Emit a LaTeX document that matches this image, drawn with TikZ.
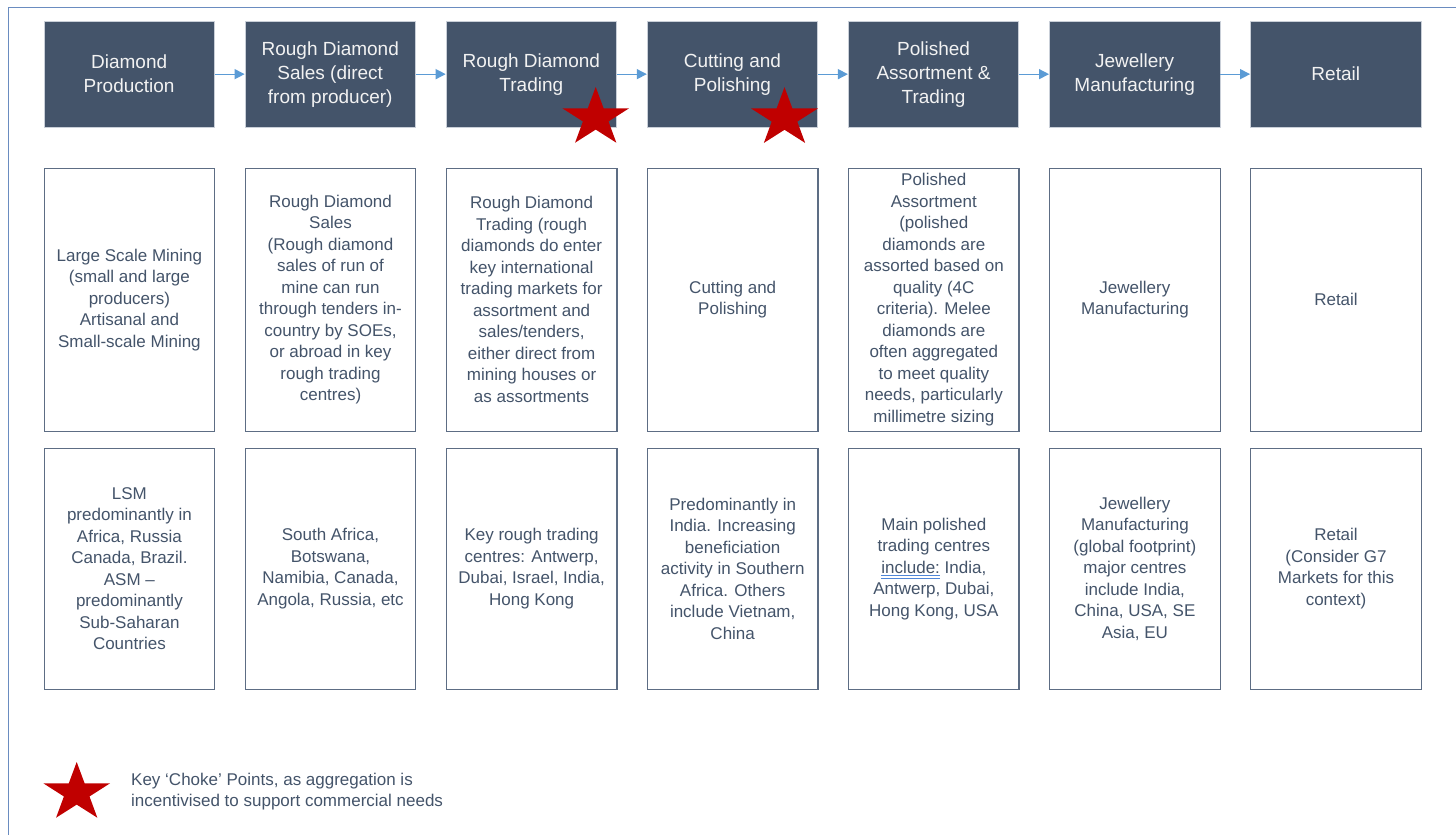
\documentclass[tikz,border=0pt]{standalone}
\usepackage{fontspec}
\setmainfont{Liberation Sans}
\usetikzlibrary{arrows.meta}
\definecolor{hdrfill}{HTML}{44546A}
\definecolor{hdrborder}{HTML}{C9CFD8}
\definecolor{hdrtext}{HTML}{F2F2F2}
\definecolor{bodytxt}{HTML}{44546A}
\definecolor{boxline}{HTML}{5D6D84}
\definecolor{arrowblue}{HTML}{5B9BD5}
\definecolor{starred}{HTML}{C00000}
\definecolor{framecol}{HTML}{6A8CC0}
\definecolor{ulblue}{HTML}{4F86D8}
\newsavebox{\ulwordbox}
\newcommand{\dblunder}[1]{%
  \sbox{\ulwordbox}{#1}%
  \rlap{\usebox{\ulwordbox}}%
  \rlap{\textcolor{ulblue}{\rule[-3.2pt]{\wd\ulwordbox}{0.8pt}}}%
  \rlap{\textcolor{ulblue}{\rule[-5.6pt]{\wd\ulwordbox}{0.8pt}}}%
  \hspace*{\wd\ulwordbox}}
\newcommand{\chokestar}[1]{%
  \fill[starred, shift={#1}, xscale=1.14]
    (90:30.8pt) -- (126:11.8pt) -- (162:30.8pt) -- (198:11.8pt) --
    (234:30.8pt) -- (270:11.8pt) -- (306:30.8pt) -- (342:11.8pt) --
    (18:30.8pt) -- (54:11.8pt) -- cycle;}
\begin{document}
\begin{tikzpicture}[x=1pt,y=-1pt,
  hdr/.style={rectangle, draw=hdrborder, line width=0.8pt, fill=hdrfill, text=hdrtext,
    minimum width=170.5pt, minimum height=105.5pt, inner sep=0pt, align=center,
    font=\fontsize{19}{24}\selectfont, anchor=north west},
  mid/.style={rectangle, draw=boxline, line width=1.3pt, fill=white, text=bodytxt,
    minimum width=170.5pt, minimum height=263pt, inner sep=0pt, align=center,
    font=\fontsize{17}{21.5}\selectfont, anchor=north west},
  bot/.style={mid, minimum height=241pt},
  flow/.style={draw=arrowblue, line width=1.3pt, -{Triangle[length=10pt,width=10pt,fill=arrowblue]}},
  legendtext/.style={text=bodytxt, align=left, inner sep=0pt, anchor=west,
    font=\fontsize{17}{21.5}\selectfont}
]
\useasboundingbox (0,0) rectangle (1456,835);
\fill[white] (0,0) rectangle (1456,835);
\draw[framecol, line width=1pt] (8,835) -- (8,7) -- (1456,7);

% header row
\node[hdr] (h1) at (43.5,21) {Diamond\\Production};
\node[hdr] (h2) at (244.6,21) {Rough Diamond\\Sales (direct\\from producer)};
\node[hdr] (h3) at (445.7,21) {Rough Diamond\\Trading};
\node[hdr] (h4) at (646.8,21) {Cutting and\\Polishing};
\node[hdr] (h5) at (847.9,21) {Polished\\Assortment \&\\Trading};
\node[hdr] (h6) at (1049,21) {Jewellery\\Manufacturing};
\node[hdr] (h7) at (1250.1,21) {Retail};

\draw[flow] (h1.east) -- (h2.west);
\draw[flow] (h2.east) -- (h3.west);
\draw[flow] (h3.east) -- (h4.west);
\draw[flow] (h4.east) -- (h5.west);
\draw[flow] (h5.east) -- (h6.west);
\draw[flow] (h6.east) -- (h7.west);

% middle row
\node[mid] (m1) at (43.5,167.5) {Large Scale Mining\\(small and large\\producers)\\Artisanal and\\Small-scale Mining};
\node[mid] (m2) at (244.6,167.5) {Rough Diamond\\Sales\\(Rough diamond\\sales of run of\\mine can run\\through tenders in-\\country by SOEs,\\or abroad in key\\rough trading\\centres)};
\node[mid] (m3) at (445.7,167.5) {Rough Diamond\\Trading (rough\\diamonds do enter\\key international\\trading markets for\\assortment and\\sales/tenders,\\either direct from\\mining houses or\\as assortments};
\node[mid] (m4) at (646.8,167.5) {Cutting and\\Polishing};
\node[mid] (m5) at (847.9,167.5) {Polished\\Assortment\\(polished\\diamonds are\\assorted based on\\quality (4C\\criteria). Melee\\diamonds are\\often aggregated\\to meet quality\\needs, particularly\\millimetre sizing};
\node[mid] (m6) at (1049,167.5) {Jewellery\\Manufacturing};
\node[mid] (m7) at (1250.1,167.5) {Retail};

% bottom row
\node[bot] (b1) at (43.5,447.5) {LSM\\predominantly in\\Africa, Russia\\Canada, Brazil.\\ASM –\\predominantly\\Sub-Saharan\\Countries};
\node[bot] (b2) at (244.6,447.5) {South Africa,\\Botswana,\\Namibia, Canada,\\Angola, Russia, etc};
\node[bot] (b3) at (445.7,447.5) {Key rough trading\\centres: Antwerp,\\Dubai, Israel, India,\\Hong Kong};
\node[bot] (b4) at (646.8,447.5) {Predominantly in\\India. Increasing\\beneficiation\\activity in Southern\\Africa. Others\\include Vietnam,\\China};
\node[bot] (b5) at (847.9,447.5) {Main polished\\trading centres\\\dblunder{include:} India,\\Antwerp, Dubai,\\Hong Kong, USA};
\node[bot] (b6) at (1049,447.5) {Jewellery\\Manufacturing\\(global footprint)\\major centres\\include India,\\China, USA, SE\\Asia, EU};
\node[bot] (b7) at (1250.1,447.5) {Retail\\(Consider G7\\Markets for this\\context)};

% choke-point stars
\chokestar{(595.7,117.8)}
\chokestar{(784.5,118)}

% legend
\chokestar{(76.7,792.8)}
\node[legendtext] (legend) at (131,791.5) {Key ‘Choke’ Points, as aggregation is\\incentivised to support commercial needs};
\end{tikzpicture}
\end{document}
